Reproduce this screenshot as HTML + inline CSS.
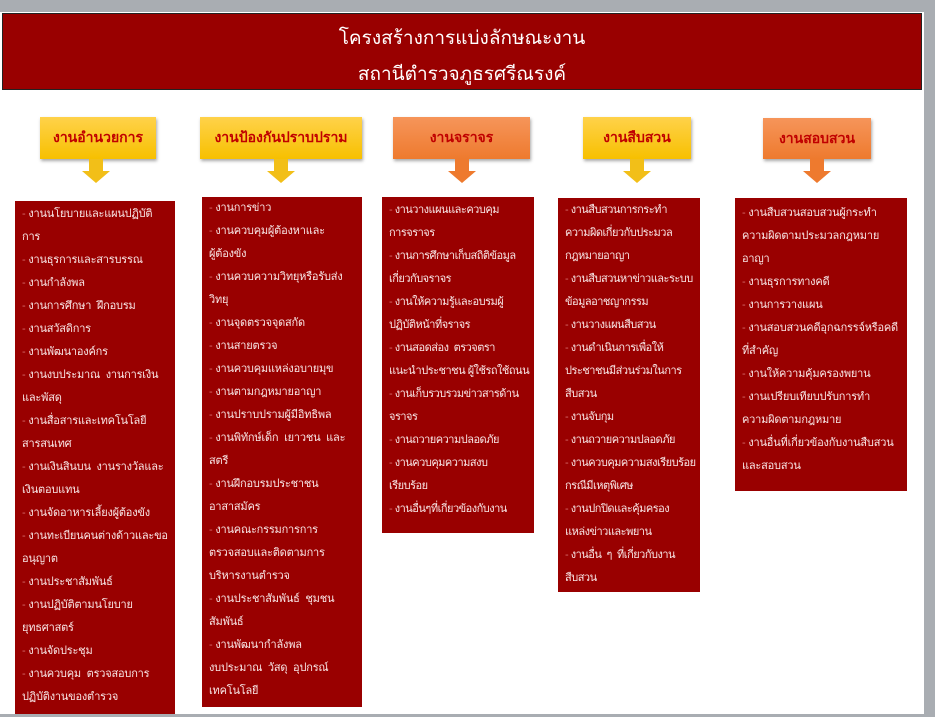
<!DOCTYPE html>
<html><head><meta charset="utf-8">
<style>
html,body{margin:0;padding:0}
body{width:935px;height:717px;background:#a9adb2;position:relative;overflow:hidden;font-family:"Liberation Sans",sans-serif}
.page{position:absolute;left:0;top:12px;width:924px;height:702px;background:#fff}
.title{position:absolute;left:2px;top:13px;width:920px;height:77px;background:#990000;border:1px solid #222;color:#fff;text-align:center;font-size:19px;line-height:36px;box-sizing:border-box;padding-top:7px}
.hd{position:absolute;top:117px;height:42px;line-height:40px;text-align:center;font-size:14px;color:#c00000;font-weight:bold;box-shadow:1px 2px 3px rgba(0,0,0,.35)}
.y{background:linear-gradient(#ffd24a,#f7c000)}
.o{background:linear-gradient(#f6955a,#ee7a2e)}
.arr{position:absolute;top:159px;width:28px;height:24px}
.col{position:absolute;background:#990000;color:#f8e6e6;font-size:11px;letter-spacing:-0.2px;line-height:23px;white-space:nowrap;padding-left:7px;box-sizing:border-box;overflow:hidden}
.col span{color:#d46a6a}
.t{letter-spacing:-0.5px}
</style></head><body>
<div class="page"></div>
<div class="title">โครงสร้างการแบ่งลักษณะงาน<br>สถานีตำรวจภูธรศรีณรงค์</div>

<div class="hd y" style="left:40px;width:116px">งานอำนวยการ</div>
<div class="hd y" style="left:200px;width:162px">งานป้องกันปราบปราม</div>
<div class="hd o" style="left:393px;width:137px">งานจราจร</div>
<div class="hd y" style="left:583px;width:108px">งานสืบสวน</div>
<div class="hd o" style="left:763px;width:108px;top:118px;height:41px">งานสอบสวน</div>

<svg class="arr" style="left:82px" viewBox="0 0 28 24"><polygon points="7,0 21,0 21,12 28,12 14,24 0,12 7,12" fill="#f2bf18"/></svg>
<svg class="arr" style="left:267px" viewBox="0 0 28 24"><polygon points="7,0 21,0 21,12 28,12 14,24 0,12 7,12" fill="#f2bf18"/></svg>
<svg class="arr" style="left:448px" viewBox="0 0 28 24"><polygon points="7,0 21,0 21,12 28,12 14,24 0,12 7,12" fill="#ee7a2e"/></svg>
<svg class="arr" style="left:623px" viewBox="0 0 28 24"><polygon points="7,0 21,0 21,12 28,12 14,24 0,12 7,12" fill="#f2bf18"/></svg>
<svg class="arr" style="left:803px" viewBox="0 0 28 24"><polygon points="7,0 21,0 21,12 28,12 14,24 0,12 7,12" fill="#ee7a2e"/></svg>

<div class="col" style="left:15px;top:201px;width:160px;height:513px;padding-top:2px">
<span>-</span> งานนโยบายและแผนปฏิบัติ<br>การ<br>
<span>-</span> งานธุรการและสารบรรณ<br>
<span>-</span> งานกำลังพล<br>
<span>-</span> งานการศึกษา &nbsp;ฝึกอบรม<br>
<span>-</span> งานสวัสดิการ<br>
<span>-</span> งานพัฒนาองค์กร<br>
<span>-</span> งานงบประมาณ &nbsp;งานการเงิน<br>และพัสดุ<br>
<span>-</span> งานสื่อสารและเทคโนโลยี<br>สารสนเทศ<br>
<span>-</span> งานเงินสินบน &nbsp;งานรางวัลและ<br>เงินตอบแทน<br>
<span>-</span> งานจัดอาหารเลี้ยงผู้ต้องขัง<br>
<span>-</span> งานทะเบียนคนต่างด้าวและขอ<br>อนุญาต<br>
<span>-</span> งานประชาสัมพันธ์<br>
<span>-</span> งานปฏิบัติตามนโยบาย<br>ยุทธศาสตร์<br>
<span>-</span> งานจัดประชุม<br>
<span>-</span> งานควบคุม &nbsp;ตรวจสอบการ<br>ปฏิบัติงานของตำรวจ
</div>

<div class="col" style="left:202px;top:197px;width:160px;height:510px">
<span>-</span> งานการข่าว<br>
<span>-</span> งานควบคุมผู้ต้องหาและ<br>ผู้ต้องขัง<br>
<span>-</span> งานควบความวิทยุหรือรับส่ง<br>วิทยุ<br>
<span>-</span> งานจุดตรวจจุดสกัด<br>
<span>-</span> งานสายตรวจ<br>
<span>-</span> งานควบคุมแหล่งอบายมุข<br>
<span>-</span> งานตามกฎหมายอาญา<br>
<span>-</span> งานปราบปรามผู้มีอิทธิพล<br>
<span>-</span> งานพิทักษ์เด็ก &nbsp;เยาวชน &nbsp;และ<br>สตรี<br>
<span>-</span> งานฝึกอบรมประชาชน<br>อาสาสมัคร<br>
<span>-</span> งานคณะกรรมการการ<br>ตรวจสอบและติดตามการ<br>บริหารงานตำรวจ<br>
<span>-</span> งานประชาสัมพันธ์ &nbsp;ชุมชน<br>สัมพันธ์<br>
<span>-</span> งานพัฒนากำลังพล<br>งบประมาณ &nbsp;วัสดุ &nbsp;อุปกรณ์<br>เทคโนโลยี
</div>

<div class="col t" style="left:382px;top:197px;width:152px;height:336px;padding-top:2px">
<span>-</span> งานวางแผนและควบคุม<br>การจราจร<br>
<span>-</span> งานการศึกษาเก็บสถิติข้อมูล<br>เกี่ยวกับจราจร<br>
<span>-</span> งานให้ความรู้และอบรมผู้<br>ปฏิบัติหน้าที่จราจร<br>
<span>-</span> งานสอดส่อง &nbsp;ตรวจตรา<br>แนะนำประชาชน ผู้ใช้รถใช้ถนน<br>
<span>-</span> งานเก็บรวบรวมข่าวสารด้าน<br>จราจร<br>
<span>-</span> งานถวายความปลอดภัย<br>
<span>-</span> งานควบคุมความสงบ<br>เรียบร้อย<br>
<span>-</span> งานอื่นๆที่เกี่ยวข้องกับงาน
</div>

<div class="col t" style="left:558px;top:198px;width:142px;height:394px;padding-top:1px">
<span>-</span> งานสืบสวนการกระทำ<br>ความผิดเกี่ยวกับประมวล<br>กฎหมายอาญา<br>
<span>-</span> งานสืบสวนหาข่าวและระบบ<br>ข้อมูลอาชญากรรม<br>
<span>-</span> งานวางแผนสืบสวน<br>
<span>-</span> งานดำเนินการเพื่อให้<br>ประชาชนมีส่วนร่วมในการ<br>สืบสวน<br>
<span>-</span> งานจับกุม<br>
<span>-</span> งานถวายความปลอดภัย<br>
<span>-</span> งานควบคุมความสงเรียบร้อย<br>กรณีมีเหตุพิเศษ<br>
<span>-</span> งานปกปิดและคุ้มครอง<br>แหล่งข่าวและพยาน<br>
<span>-</span> งานอื่น &nbsp;ๆ &nbsp;ที่เกี่ยวกับงาน<br>สืบสวน
</div>

<div class="col" style="left:735px;top:198px;width:172px;height:293px;padding-top:4px">
<span>-</span> งานสืบสวนสอบสวนผู้กระทำ<br>ความผิดตามประมวลกฎหมาย<br>อาญา<br>
<span>-</span> งานธุรการทางคดี<br>
<span>-</span> งานการวางแผน<br>
<span>-</span> งานสอบสวนคดีอุกฉกรรจ์หรือคดี<br>ที่สำคัญ<br>
<span>-</span> งานให้ความคุ้มครองพยาน<br>
<span>-</span> งานเปรียบเทียบปรับการทำ<br>ความผิดตามกฎหมาย<br>
<span>-</span> งานอื่นที่เกี่ยวข้องกับงานสืบสวน<br>และสอบสวน
</div>
</body></html>
